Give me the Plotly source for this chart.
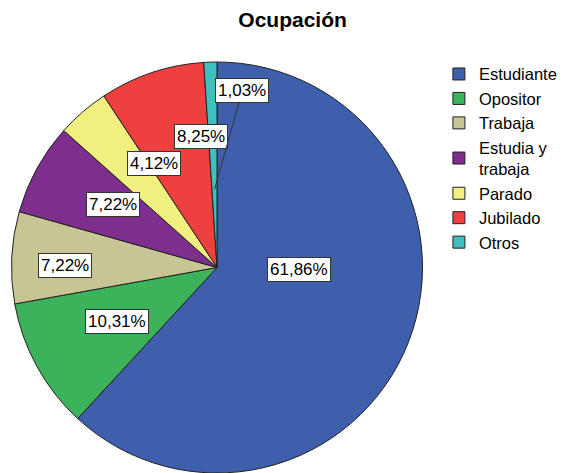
import math
import plotly.graph_objects as go

categories = ["Estudiante", "Opositor", "Trabaja", "Estudia y<br>trabaja", "Parado", "Jubilado", "Otros"]
percentages = [61.86, 10.31, 7.22, 7.22, 4.12, 8.25, 1.03]
colors = ["#3e5fac", "#3cb35a", "#c8c594", "#7e2f8e", "#f0ef7f", "#ef4040", "#3ebfc0"]

# label placement (radius fraction, angle tweak in degrees) - style only
label_r = [0.40, 0.72, 0.87, 0.71, 0.67, 0.73, 0.38]
label_da = [-20, 2, -2, -3, 0, 2, 0]

W, H = 576, 473
dom_x = [11 / W, 423 / W]
dom_y = [0.0, 1 - 62 / H]
FONT = "Liberation Sans, Arial"

fig = go.Figure(go.Pie(
    labels=categories,
    values=percentages,
    sort=False,
    direction="clockwise",
    rotation=0,
    marker=dict(colors=colors, line=dict(color="#222222", width=1)),
    textinfo="none",
    hoverinfo="label+percent",
    domain=dict(x=dom_x, y=dom_y),
))

# pie geometry in pixels
cx = (dom_x[0] + dom_x[1]) / 2 * W
cy = H - (dom_y[0] + dom_y[1]) / 2 * H
R = min((dom_x[1] - dom_x[0]) * W, (dom_y[1] - dom_y[0]) * H) / 2

total = sum(percentages)
cum = 0.0
annotations = []
for i, v in enumerate(percentages):
    mid = (cum + v / 2) / total * 360 + label_da[i]
    cum += v
    a = math.radians(mid)
    px = cx + math.sin(a) * R * label_r[i]
    py = cy - math.cos(a) * R * label_r[i]
    txt = f"{v:.2f}%".replace(".", ",")
    ann = dict(
        x=px / W, y=1 - py / H, xref="paper", yref="paper",
        text=txt, font=dict(family=FONT, size=17, color="black"),
        bgcolor="white", bordercolor="#333333", borderwidth=1, borderpad=2,
        showarrow=False,
    )
    if i == len(percentages) - 1:
        ann.update(showarrow=True, arrowhead=0, arrowwidth=1, arrowcolor="#333333",
                   ax=28, ay=-99, standoff=0)
    annotations.append(ann)

fig.update_layout(
    width=W, height=H,
    margin=dict(l=0, r=0, t=0, b=0),
    paper_bgcolor="white",
    plot_bgcolor="white",
    title=dict(text="<b>Ocupación</b>", x=0.508, xanchor="center", y=0.958, yanchor="middle",
               font=dict(family=FONT, size=21, color="black")),
    legend=dict(x=0.762, y=0.88, xanchor="left", yanchor="top",
                font=dict(family=FONT, size=16.5, color="black"),
                itemwidth=30, tracegroupgap=0, valign="middle"),
    annotations=annotations,
)

fig.write_html("out.html", config={"displayModeBar": False},
               post_script="document.body.style.margin='0';document.body.style.padding='0';")
